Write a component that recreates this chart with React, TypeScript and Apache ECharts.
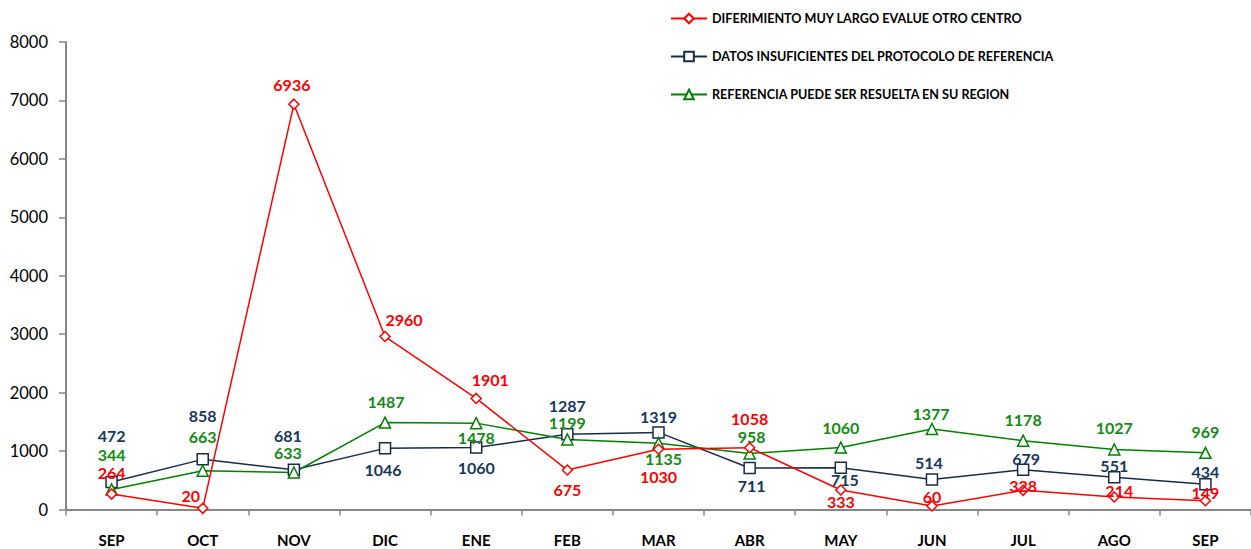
import React, { useEffect, useRef } from "react";
import * as echarts from "echarts";

const categories = ["SEP", "OCT", "NOV", "DIC", "ENE", "FEB", "MAR", "ABR", "MAY", "JUN", "JUL", "AGO", "SEP"];
const yTicks = { min: 0, max: 8000, interval: 1000 };

const seriesNames = [
  "DIFERIMIENTO MUY LARGO EVALUE OTRO CENTRO",
  "DATOS INSUFICIENTES DEL PROTOCOLO DE REFERENCIA",
  "REFERENCIA PUEDE SER RESUELTA EN SU REGION",
];
const diferimiento = [264, 20, 6936, 2960, 1901, 675, 1030, 1058, 333, 60, 328, 214, 149];
const datosInsuficientes = [472, 858, 681, 1046, 1060, 1287, 1319, 711, 715, 514, 679, 551, 434];
const resueltaRegion = [344, 663, 633, 1487, 1478, 1199, 1135, 958, 1060, 1377, 1178, 1027, 969];

// label placement (pixel offsets from each marker), styling only
const redOffsets = [[0, -22], [-12, -13], [-2, -20], [19, -17], [14, -19], [0, 19], [0, 27], [0, -29], [0, 11], [0, -9], [0, -5], [5, -6], [0, -8]];
const blueOffsets = [[0, -46], [0, -44], [-6, -34], [-2, 21], [0, 20], [0, -29], [0, -16], [2, 18], [4, 12], [-3, -17], [3, -11], [0, -12], [0, -13]];
const greenOffsets = [[0, -35], [0, -34], [-6, -20], [1, -21], [0, 14], [0, -17], [5, 15], [2, -17], [0, -20], [-1, -16], [0, -21], [0, -22], [0, -21]];

const FONT = "Lato, 'Open Sans', sans-serif";

function buildData(values: number[], offsets: number[][], color: string) {
  return values.map((v, i) => ({
    value: v,
    label: {
      show: true,
      position: "inside",
      offset: offsets[i],
      color,
      fontWeight: "bold",
      fontSize: 16,
      fontFamily: FONT,
    },
  }));
}

export default function App() {
  const ref = useRef<HTMLDivElement>(null);
  useEffect(() => {
    if (!ref.current) return;
    const chart = echarts.init(ref.current, undefined, { renderer: "svg" });
    const red = "#ff0000";
    const blueLine = "#1a2b4a";
    const blueLabel = "#17375e";
    const green = "#008000";
    const greenLabel = "#158a15";
    chart.setOption({
      animation: false,
      backgroundColor: "#ffffff",
      grid: { left: 66, top: 42, width: 1187, bottom: 39.5, containLabel: false },
      legend: {
        orient: "vertical",
        left: 665,
        top: 7,
        itemWidth: 36,
        itemHeight: 12,
        itemGap: 25,
        textStyle: { fontFamily: FONT, fontWeight: "bold", fontSize: 12.6, color: "#000" },
        data: seriesNames,
      },
      xAxis: {
        type: "category",
        data: categories,
        boundaryGap: true,
        axisLine: { lineStyle: { color: "#868686", width: 2 } },
        axisTick: { show: true, length: 6, lineStyle: { color: "#868686", width: 1.5 } },
        axisLabel: { margin: 23, fontFamily: FONT, fontWeight: "bold", fontSize: 15, color: "#000" },
        splitLine: { show: false },
      },
      yAxis: {
        type: "value",
        min: yTicks.min,
        max: yTicks.max,
        interval: yTicks.interval,
        axisLine: { show: true, lineStyle: { color: "#868686", width: 2 } },
        axisTick: { show: true, inside: false, length: 7, lineStyle: { color: "#868686", width: 1.5 } },
        axisLabel: {
          margin: 18,
          fontFamily: FONT,
          fontSize: 16.5,
          color: "#000",
          formatter: (v: number) => String(v),
        },
        splitLine: { show: false },
      },
      series: [
        {
          name: seriesNames[0],
          type: "line",
          data: buildData(diferimiento, redOffsets, red),
          symbol: "diamond",
          symbolSize: 10,
          z: 4,
          lineStyle: { color: red, width: 1.5 },
          itemStyle: { color: "#ffffff", borderColor: red, borderWidth: 1.5 },
        },
        {
          name: seriesNames[1],
          type: "line",
          data: buildData(datosInsuficientes, blueOffsets, blueLabel),
          symbol: "rect",
          symbolSize: 11,
          z: 3,
          lineStyle: { color: blueLine, width: 1.5 },
          itemStyle: { color: "#ffffff", borderColor: blueLine, borderWidth: 1.5 },
        },
        {
          name: seriesNames[2],
          type: "line",
          data: buildData(resueltaRegion, greenOffsets, greenLabel),
          symbol: "triangle",
          symbolSize: 11,
          z: 3,
          lineStyle: { color: green, width: 1.5 },
          itemStyle: { color: "#ffffff", borderColor: green, borderWidth: 1.5 },
        },
      ],
    });
    return () => chart.dispose();
  }, []);
  return (
    <div
      ref={ref}
      style={{ position: "fixed", left: 0, top: 0, width: 1251, height: 549, background: "#fff" }}
    />
  );
}
